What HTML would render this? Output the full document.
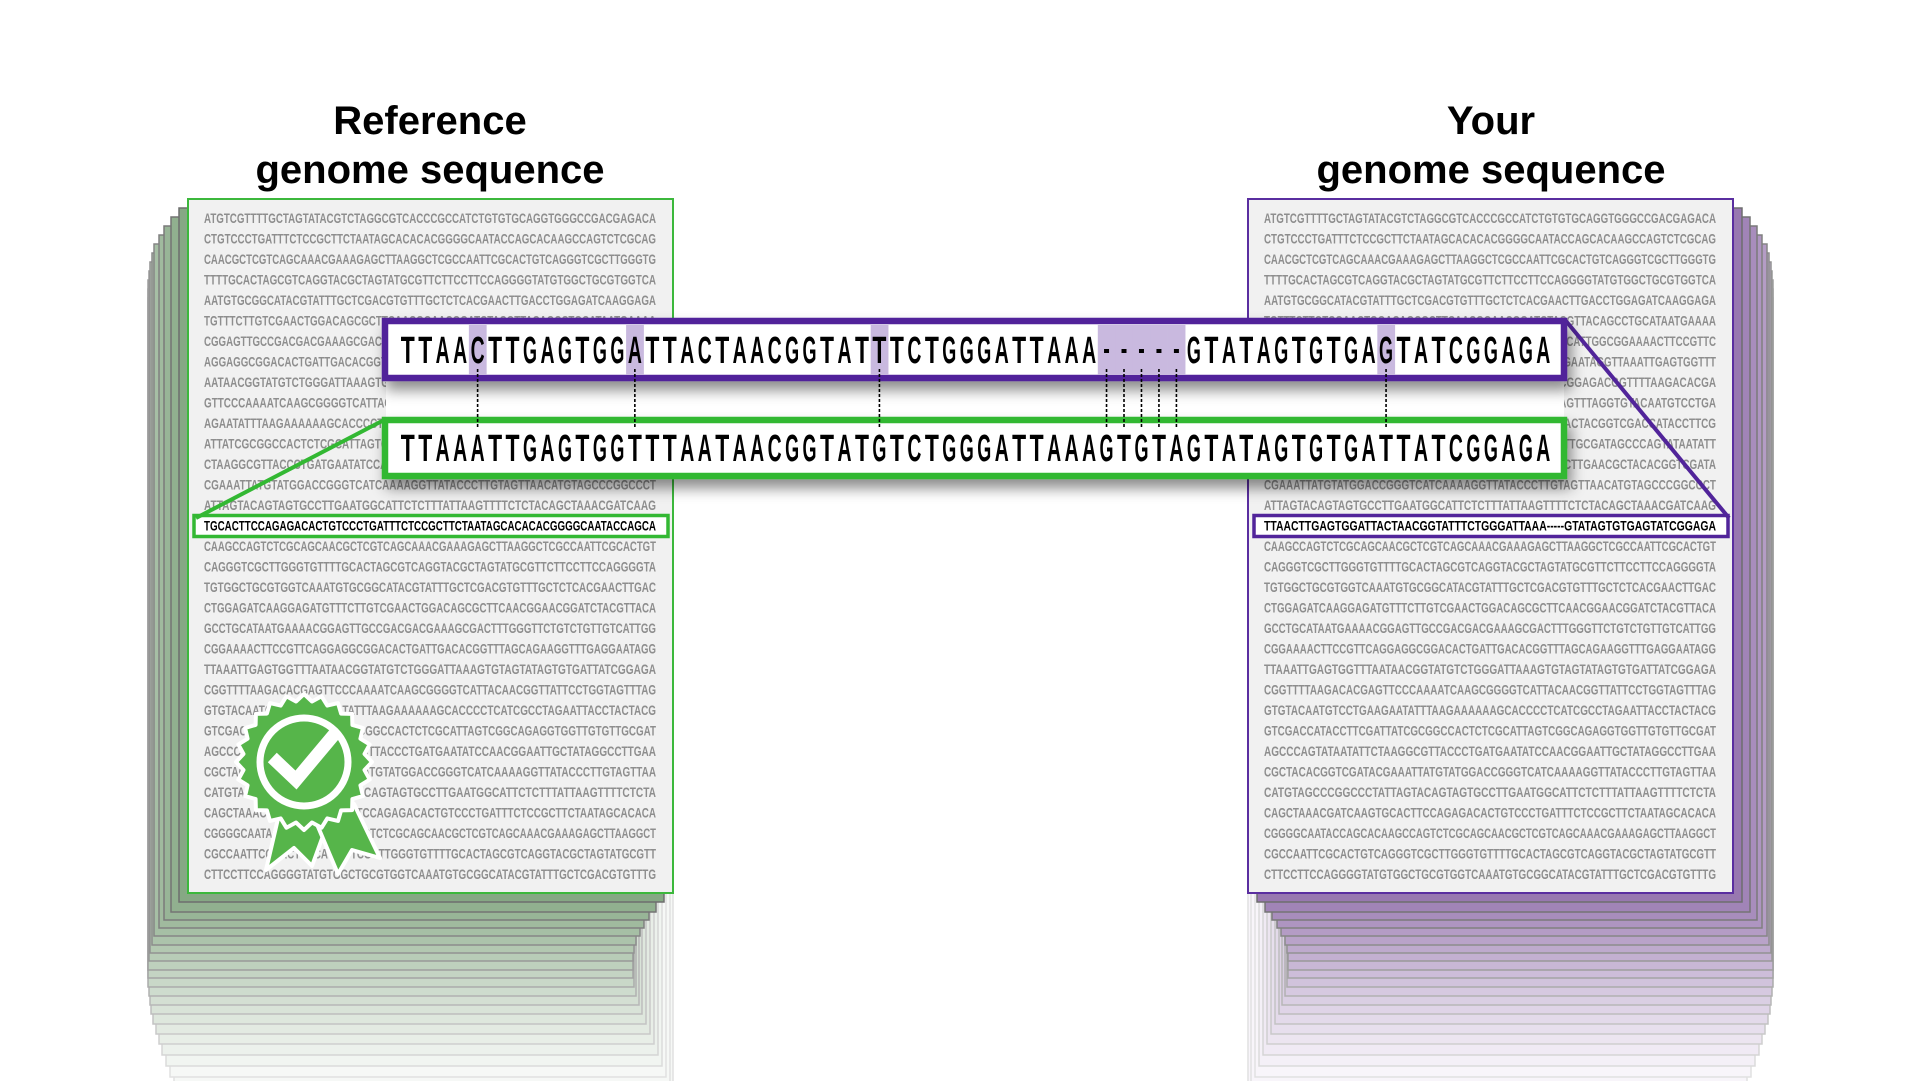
<!DOCTYPE html>
<html><head><meta charset="utf-8"><style>
html,body{margin:0;padding:0;background:#fff;width:1921px;height:1081px;overflow:hidden}
svg{display:block}
.seq{font-family:"Liberation Sans",sans-serif;font-weight:bold;font-size:14px;fill:#8e8e8e}
.big{font-family:"Liberation Sans",sans-serif;font-weight:bold;font-size:38px;fill:#000}
.title{font-family:"Liberation Sans",sans-serif;font-weight:bold;font-size:40px;fill:#000}
</style></head><body>
<svg id="fig" width="1921" height="1081" viewBox="0 0 1921 1081" xmlns="http://www.w3.org/2000/svg">
<defs>
<filter id="sh" x="-5%" y="-30%" width="110%" height="190%"><feDropShadow dx="4" dy="9" stdDeviation="7" flood-color="#000" flood-opacity="0.45"/></filter>
</defs>
<g id="stacks"></g>
<g id="pages"></g>
<text class="title" x="430" y="134" text-anchor="middle">Reference</text>
<text class="title" x="430" y="183" text-anchor="middle">genome sequence</text>
<text class="title" x="1491" y="134" text-anchor="middle">Your</text>
<text class="title" x="1491" y="183" text-anchor="middle">genome sequence</text>
<g id="zoom"></g>
<g id="badge">
  <polygon points="280,810 328,822 312,866 294,848 266,870" fill="#56b54a" stroke="#fff" stroke-width="4" stroke-linejoin="round"/>
  <polygon points="316,822 354,804 380,858 352,850 338,874" fill="#56b54a" stroke="#fff" stroke-width="4" stroke-linejoin="round"/>
  <polygon id="star" fill="#56b54a" stroke="#fff" stroke-width="4" stroke-linejoin="round"/>
  <circle cx="304" cy="762" r="44" fill="none" stroke="#fff" stroke-width="7"/>
  <polyline points="277,762 296,780 332,737" fill="none" stroke="#fff" stroke-width="13" stroke-linecap="square"/>
</g>
</svg>
<script>
const NS='http://www.w3.org/2000/svg';
const rowsL=[
"ATGTCGTTTTGCTAGTATACGTCTAGGCGTCACCCGCCATCTGTGTGCAGGTGGGCCGACGAGACA",
"CTGTCCCTGATTTCTCCGCTTCTAATAGCACACACGGGGCAATACCAGCACAAGCCAGTCTCGCAG",
"CAACGCTCGTCAGCAAACGAAAGAGCTTAAGGCTCGCCAATTCGCACTGTCAGGGTCGCTTGGGTG",
"TTTTGCACTAGCGTCAGGTACGCTAGTATGCGTTCTTCCTTCCAGGGGTATGTGGCTGCGTGGTCA",
"AATGTGCGGCATACGTATTTGCTCGACGTGTTTGCTCTCACGAACTTGACCTGGAGATCAAGGAGA",
"TGTTTCTTGTCGAACTGGACAGCGCTTCAACGGAACGGATCTACGTTACAGCCTGCATAATGAAAA",
"CGGAGTTGCCGACGACGAAAGCGACTTTGGGTTCTGTCTGTTGTCATTGGCGGAAAACTTCCGTTC",
"AGGAGGCGGACACTGATTGACACGGTTTAGCAGAAGGTTTGAGGAATAGGTTAAATTGAGTGGTTT",
"AATAACGGTATGTCTGGGATTAAAGTGTAGTATAGTGTGATTATCGGAGACGGTTTTAAGACACGA",
"GTTCCCAAAATCAAGCGGGGTCATTACAACGGTTATTCCTGGTAGTTTAGGTGTACAATGTCCTGA",
"AGAATATTTAAGAAAAAAGCACCCCTCATCGCCTAGAATTACCTACTACGGTCGACCATACCTTCG",
"ATTATCGCGGCCACTCTCGCATTAGTCGGCAGAGGTGGTTGTGTTGCGATAGCCCAGTATAATATT",
"CTAAGGCGTTACCCTGATGAATATCCAACGGAATTGCTATAGGCCTTGAACGCTACACGGTCGATA",
"CGAAATTATGTATGGACCGGGTCATCAAAAGGTTATACCCTTGTAGTTAACATGTAGCCCGGCCCT",
"ATTAGTACAGTAGTGCCTTGAATGGCATTCTCTTTATTAAGTTTTCTCTACAGCTAAACGATCAAG",
"TGCACTTCCAGAGACACTGTCCCTGATTTCTCCGCTTCTAATAGCACACACGGGGCAATACCAGCA",
"CAAGCCAGTCTCGCAGCAACGCTCGTCAGCAAACGAAAGAGCTTAAGGCTCGCCAATTCGCACTGT",
"CAGGGTCGCTTGGGTGTTTTGCACTAGCGTCAGGTACGCTAGTATGCGTTCTTCCTTCCAGGGGTA",
"TGTGGCTGCGTGGTCAAATGTGCGGCATACGTATTTGCTCGACGTGTTTGCTCTCACGAACTTGAC",
"CTGGAGATCAAGGAGATGTTTCTTGTCGAACTGGACAGCGCTTCAACGGAACGGATCTACGTTACA",
"GCCTGCATAATGAAAACGGAGTTGCCGACGACGAAAGCGACTTTGGGTTCTGTCTGTTGTCATTGG",
"CGGAAAACTTCCGTTCAGGAGGCGGACACTGATTGACACGGTTTAGCAGAAGGTTTGAGGAATAGG",
"TTAAATTGAGTGGTTTAATAACGGTATGTCTGGGATTAAAGTGTAGTATAGTGTGATTATCGGAGA",
"CGGTTTTAAGACACGAGTTCCCAAAATCAAGCGGGGTCATTACAACGGTTATTCCTGGTAGTTTAG",
"GTGTACAATGTCCTGAAGAATATTTAAGAAAAAAGCACCCCTCATCGCCTAGAATTACCTACTACG",
"GTCGACCATACCTTCGATTATCGCGGCCACTCTCGCATTAGTCGGCAGAGGTGGTTGTGTTGCGAT",
"AGCCCAGTATAATATTCTAAGGCGTTACCCTGATGAATATCCAACGGAATTGCTATAGGCCTTGAA",
"CGCTACACGGTCGATACGAAATTATGTATGGACCGGGTCATCAAAAGGTTATACCCTTGTAGTTAA",
"CATGTAGCCCGGCCCTATTAGTACAGTAGTGCCTTGAATGGCATTCTCTTTATTAAGTTTTCTCTA",
"CAGCTAAACGATCAAGTGCACTTCCAGAGACACTGTCCCTGATTTCTCCGCTTCTAATAGCACACA",
"CGGGGCAATACCAGCACAAGCCAGTCTCGCAGCAACGCTCGTCAGCAAACGAAAGAGCTTAAGGCT",
"CGCCAATTCGCACTGTCAGGGTCGCTTGGGTGTTTTGCACTAGCGTCAGGTACGCTAGTATGCGTT",
"CTTCCTTCCAGGGGTATGTGGCTGCGTGGTCAAATGTGCGGCATACGTATTTGCTCGACGTGTTTG"];
const yourSeq="TTAACTTGAGTGGATTACTAACGGTATTTCTGGGATTAAA-----GTATAGTGTGAGTATCGGAGA";
const refSeq ="TTAAATTGAGTGGTTTAATAACGGTATGTCTGGGATTAAAGTGTAGTATAGTGTGATTATCGGAGA";
const mismatchIdx=[4,13,27,40,41,42,43,44,56];
const HL_ROW=15;
const stackLeft =[179,171,164,159,154,152,150,149,148,148,148,149,150,151,153,156,159,162,166,170,174,178];
const stackRight=[664,656,649,644,640,636,634,633,633,633,634,636,639,642,646,650,654,658,662,666,670,673];
const stackBottom=[902,912,920,928,936,945,953,961,970,978,987,996,1005,1014,1024,1034,1044,1055,1066,1077,1088,1099];

function el(tag,attrs,parent){const e=document.createElementNS(NS,tag);for(const k in attrs)e.setAttribute(k,attrs[k]);parent.appendChild(e);return e;}
function mix(a,b,t){return 'rgb('+a.map((v,i)=>Math.round(v+(b[i]-v)*t)).join(',')+')';}

const stacks=document.getElementById('stacks');
const N=stackLeft.length;
for(let k=N-1;k>=0;k--){
  const t=Math.min(1,k/(N-3));
  const top=199+9*(k+1);
  const r=el('rect',{x:stackLeft[k],y:top,width:stackRight[k]-stackLeft[k],height:stackBottom[k]-top,
    fill:mix([134,168,132],[246,248,246],Math.pow(t,0.8)),stroke:mix([110,110,110],[225,225,225],t),'stroke-width':1.5},stacks);
  
  
  const L2=1248+(673-stackRight[k]), R2=1733+(188-stackLeft[k]);
  const r2=el('rect',{x:L2,y:top,width:R2-L2,height:stackBottom[k]-top,
    fill:mix([152,120,176],[248,245,250],Math.pow(t,0.8)),stroke:mix([110,110,110],[225,225,225],t),'stroke-width':1.5},stacks);
  
  
}

const pages=document.getElementById('pages');
function page(x,color,name,hlText,hlColor){
  const g=el('g',{},pages);
  
  
  el('rect',{x:x,y:199,width:485,height:694,fill:'#f1f1f1',stroke:color,'stroke-width':2},g);
  for(let i=0;i<rowsL.length;i++){
    const y=218+i*20.5;
    if(i===HL_ROW){
      const b=el('rect',{x:x+6,y:y-10,width:474,height:21,fill:'#fff',stroke:hlColor,'stroke-width':3.5},g);
      
      
      const t=el('text',{x:x+16,y:y+5,class:'seq',textLength:452,lengthAdjust:'spacingAndGlyphs',style:'fill:#000'},g);
      t.textContent=hlText;
      
      
    } else {
      const t=el('text',{x:x+16,y:y+5,class:'seq',textLength:452,lengthAdjust:'spacingAndGlyphs'},g);
      t.textContent=rowsL[i];
      
      
    }
  }
}
page(188,'#3cb83c','reference-page',rowsL[HL_ROW],'#33b833');
page(1248,'#5a2ea0','your-page',yourSeq,'#51249a');

const zoom=document.getElementById('zoom');
const X0=399,PITCH=17.47;
const cx=i=>X0+(i+0.5)*PITCH;
const c1=el('line',{x1:196,y1:518,x2:384,y2:420,stroke:'#33b833','stroke-width':4},zoom);


const c2=el('line',{x1:1566,y1:321,x2:1729,y2:518,stroke:'#51249a','stroke-width':4},zoom);


el('rect',{x:386,y:320,width:1178,height:158,fill:'#fff'},zoom);
const pb=el('rect',{x:385,y:321,width:1179,height:57,fill:'#fff',stroke:'#51249a','stroke-width':6.5,filter:'url(#sh)'},zoom);


const gb=el('rect',{x:385,y:420,width:1179,height:56,fill:'#fff',stroke:'#33b833','stroke-width':6.5,filter:'url(#sh)'},zoom);


for(const i of mismatchIdx){
  const h=el('rect',{x:cx(i)-PITCH/2,y:325,width:PITCH+0.3,height:50,fill:'#c9b9df'},zoom);
  
  
  const d=el('line',{x1:cx(i),y1:369,x2:cx(i),y2:429,stroke:'#000','stroke-width':1.6,'stroke-dasharray':'3 2'},zoom);
  
  
}
function bigRow(seq,baseY,name){
  for(let i=0;i<seq.length;i++){
    if(seq[i]==='-'){
      const r=el('rect',{x:cx(i)-2.5,y:baseY-14,width:5,height:4,fill:'#000'},zoom);
      
      
      continue;
    }
    const t=el('text',{x:cx(i)-7,y:baseY,class:'big',textLength:14,lengthAdjust:'spacingAndGlyphs'},zoom);
    t.textContent=seq[i];
    
    
  }
}
bigRow(yourSeq,363,'your-sequence');
bigRow(refSeq,461,'reference-sequence');

const pts=[];const n=24;
for(let i=0;i<2*n;i++){const a=Math.PI*i/n;const rr=i%2?61:68;pts.push((304+rr*Math.sin(a)).toFixed(1)+','+(762-rr*Math.cos(a)).toFixed(1));}
document.getElementById('star').setAttribute('points',pts.join(' '));
</script>
</body></html>
